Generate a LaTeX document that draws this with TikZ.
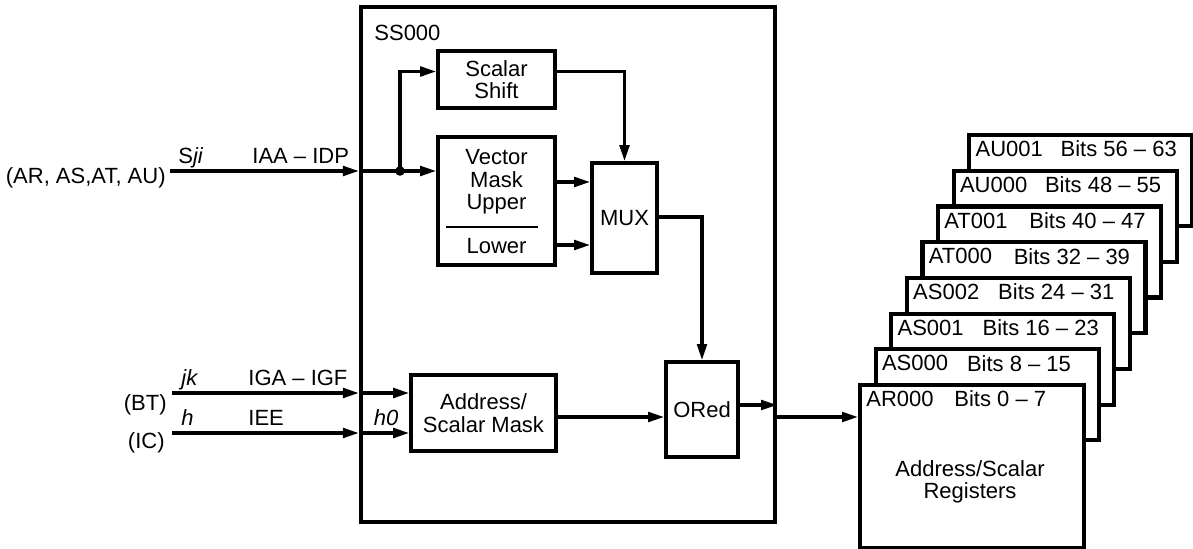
\documentclass[tikz,border=0pt]{standalone}
\usepackage{fontspec}
\setmainfont{Liberation Sans}
\usetikzlibrary{arrows.meta,calc,positioning}
\tikzset{
  bigbox/.style={draw=black,line width=2.1pt,inner sep=0pt},
  blk/.style={draw=black,line width=1.8pt,fill=white,align=center,inner sep=0pt},
  regbox/.style={draw=black,line width=2.1pt,fill=white,anchor=north west,inner sep=0pt},
  sz/.style 2 args={minimum width=#1*0.5pt,minimum height=#2*0.5pt},
  wire/.style={draw=black,line width=1.6pt},
  arr/.style={wire,-{Triangle[length=8pt,width=4.8pt]}},
  sig/.style={inner sep=0pt,anchor=base west},
  srclabel/.style={inner sep=0pt,anchor=east},
  txt/.style={inner sep=0pt,anchor=west},
  junction/.style={circle,fill=black,inner sep=0pt,minimum size=4.8pt}
}
\begin{document}
\begin{tikzpicture}[x=0.5pt,y=-0.5pt,font=\fontsize{11}{11.2}\selectfont]
  \useasboundingbox (0,0) rectangle (1193,549);
  % SS000 block and its parts
  \node[bigbox,sz={414}{515}] (ss) at (568,264.5) {};
  \node[txt] (sstitle) at (374,33) {SS000};
  \node[blk,sz={117}{57}] (shift) at (496.5,79.5) {Scalar\\Shift};
  \node[blk,sz={117}{128}] (vmask) at (496.5,201) {};
  \node[inner sep=0pt,align=center] (vupper) at (496.5,182) {Vector\\Mask\\Upper};
  \node[inner sep=0pt] (vlower) at (496.5,246) {Lower};
  \draw[line width=1.2pt] ([xshift=5pt]vmask.west |- 0,227) -- ([xshift=-9.5pt]vmask.east |- 0,227);
  \node[blk,sz={65}{110}] (mux) at (624.5,218) {MUX};
  \node[blk,sz={145}{76}] (addr) at (483.5,413) {Address/\\Scalar Mask};
  \node[blk,sz={72}{95}] (ored) at (702,409.5) {ORed};

  % inputs
  \node[srclabel] (srcA) at (166,178) {(AR, AS,AT, AU)};
  \node[srclabel] (srcB) at (167,405) {(BT)};
  \node[srclabel] (srcC) at (165,443) {(IC)};
  \coordinate (split) at (400,171);
  \draw[arr] ([xshift=2pt]srcA.east |- split) -- (ss.west |- split);
  \draw[wire] (ss.west |- split) -- (split);
  \draw[arr] (split) -- (vmask.west |- split);
  \draw[arr] (split) |- ([yshift=4pt]shift.west);
  \node[junction] (jn) at (split) {};
  \node[sig] (lsji) at (178,164) {S\textit{ji}};
  \node[sig] (liaa) at (252,164) {IAA -- IDP};

  \draw[arr] ([xshift=2.5pt]srcB.east |- 0,393) -- (ss.west |- 0,393);
  \draw[arr] (ss.west |- 0,393) -- (addr.west |- 0,393);
  \draw[arr] ([xshift=3.5pt]srcC.east |- 0,433) -- (ss.west |- 0,433);
  \draw[arr] (ss.west |- 0,433) -- (addr.west |- 0,433);
  \node[sig] (ljk) at (181,386) {\textit{jk}};
  \node[sig] (liga) at (248,386) {IGA -- IGF};
  \node[sig] (lh) at (181,426) {\textit{h}};
  \node[sig] (liee) at (248,426) {IEE};
  \node[inner sep=0pt,anchor=base] (lh0) at (386,426) {\textit{h0}};

  % inside SS000
  \draw[arr] ([yshift=4pt]shift.east) -| (mux.north);
  \draw[arr] (vmask.east |- 0,182) -- (mux.west |- 0,182);
  \draw[arr] (vmask.east |- 0,245) -- (mux.west |- 0,245);
  \draw[arr] (mux.east |- 0,217) -| (ored.north);
  \draw[arr] (addr.east |- 0,417) -- (ored.west |- 0,417);
  \draw[arr] (ored.east |- 0,405) -- (ss.east |- 0,405);

  % register stack
  \foreach \i/\reg/\lo/\hi in {7/AU001/56/63,6/AU000/48/55,5/AT001/40/47,4/AT000/32/39,
                               3/AS002/24/31,2/AS001/16/23,1/AS000/8/15}{
    \node[regbox,sz={223}{91}] (r\i) at ({858+15.6*\i},{383-35.7*\i}) {};
    \node[txt] (n\i) at ([xshift=4pt,yshift=-8pt]r\i.north west) {\reg};
    \node[txt] (b\i) at ([xshift=46.5pt,yshift=-8pt]r\i.north west) {Bits \lo\ -- \hi};
  }
  \node[regbox,sz={224}{163}] (r0) at (858,383) {};
  \node[txt] (n0) at ([xshift=4pt,yshift=-8pt]r0.north west) {AR000};
  \node[txt] (b0) at ([xshift=48pt,yshift=-8pt]r0.north west) {Bits 0 -- 7};
  \node[inner sep=0pt,align=center] (rtext) at (970,482) {Address/Scalar\\Registers};

  \draw[arr] (ss.east |- 0,417) -- (r0.west |- 0,417);
\end{tikzpicture}
\end{document}
